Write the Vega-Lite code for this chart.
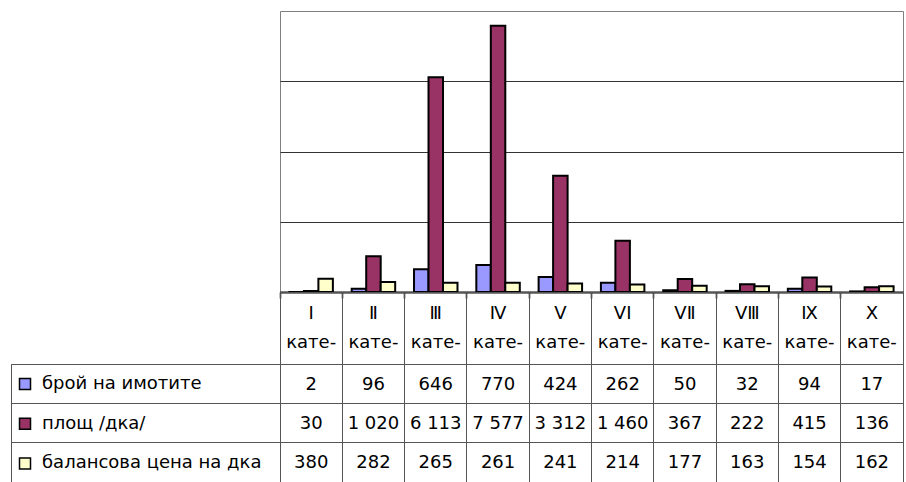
{
  "$schema": "https://vega.github.io/schema/vega-lite/v6.json",
  "padding": {"left": 10, "top": 10, "right": 4, "bottom": 0},
  "background": "white",
  "config": {
    "locale": {"number": {"decimal": ",", "thousands": " ", "grouping": [3], "currency": ["", ""]}},
    "font": "DejaVu Sans",
    "view": {"stroke": "#808080"}
  },
  "datasets": {
    "t": [
      {"category": "I кате-", "series": "брой  на имотите", "value": 2},
      {"category": "I кате-", "series": "площ /дка/", "value": 30},
      {"category": "I кате-", "series": "балансова цена на дка", "value": 380},
      {"category": "Ⅱ кате-", "series": "брой  на имотите", "value": 96},
      {"category": "Ⅱ кате-", "series": "площ /дка/", "value": 1020},
      {"category": "Ⅱ кате-", "series": "балансова цена на дка", "value": 282},
      {"category": "Ⅲ кате-", "series": "брой  на имотите", "value": 646},
      {"category": "Ⅲ кате-", "series": "площ /дка/", "value": 6113},
      {"category": "Ⅲ кате-", "series": "балансова цена на дка", "value": 265},
      {"category": "Ⅳ кате-", "series": "брой  на имотите", "value": 770},
      {"category": "Ⅳ кате-", "series": "площ /дка/", "value": 7577},
      {"category": "Ⅳ кате-", "series": "балансова цена на дка", "value": 261},
      {"category": "V кате-", "series": "брой  на имотите", "value": 424},
      {"category": "V кате-", "series": "площ /дка/", "value": 3312},
      {"category": "V кате-", "series": "балансова цена на дка", "value": 241},
      {"category": "VI кате-", "series": "брой  на имотите", "value": 262},
      {"category": "VI кате-", "series": "площ /дка/", "value": 1460},
      {"category": "VI кате-", "series": "балансова цена на дка", "value": 214},
      {"category": "VⅡ кате-", "series": "брой  на имотите", "value": 50},
      {"category": "VⅡ кате-", "series": "площ /дка/", "value": 367},
      {"category": "VⅡ кате-", "series": "балансова цена на дка", "value": 177},
      {"category": "VⅢ кате-", "series": "брой  на имотите", "value": 32},
      {"category": "VⅢ кате-", "series": "площ /дка/", "value": 222},
      {"category": "VⅢ кате-", "series": "балансова цена на дка", "value": 163},
      {"category": "Ⅸ кате-", "series": "брой  на имотите", "value": 94},
      {"category": "Ⅸ кате-", "series": "площ /дка/", "value": 415},
      {"category": "Ⅸ кате-", "series": "балансова цена на дка", "value": 154},
      {"category": "X кате-", "series": "брой  на имотите", "value": 17},
      {"category": "X кате-", "series": "площ /дка/", "value": 136},
      {"category": "X кате-", "series": "балансова цена на дка", "value": 162}
    ]
  },
  "columns": 2,
  "spacing": 0,
  "bounds": "flush",
  "concat": [
    {
      "data": {"values": []},
      "width": 269, "height": 281,
      "view": {"stroke": null},
      "mark": "point",
      "encoding": {}
    },
    {
      "data": {"name": "t"},
      "width": 623, "height": 281,
      "view": {"stroke": "#808080"},
      "mark": {"type": "bar", "stroke": "black", "strokeWidth": 2},
      "encoding": {
        "x": {"field": "category", "type": "nominal", "sort": null,
          "scale": {"paddingInner": 0, "paddingOuter": 0},
          "axis": {"title": null, "labels": false, "bandPosition": 0, "domainColor": "black", "domainWidth": 2, "tickColor": "black", "tickSize": 6, "tickWidth": 1.5, "grid": false}},
        "xOffset": {"field": "series", "type": "nominal",
          "scale": {"domain": ["брой  на имотите", "площ /дка/", "балансова цена на дка"], "paddingInner": 0, "paddingOuter": 0.65}},
        "y": {"field": "value", "type": "quantitative",
          "scale": {"domain": [0, 8000], "nice": false},
          "axis": {"title": null, "labels": false, "ticks": false, "domain": false, "grid": true, "values": [2000, 4000, 6000], "gridColor": "#333333", "gridOpacity": 1}},
        "color": {"field": "series", "type": "nominal",
          "scale": {"domain": ["брой  на имотите", "площ /дка/", "балансова цена на дка"], "range": ["#9999FF", "#993366", "#FFFFCC"]},
          "legend": {"orient": "none", "legendX": 5, "legendY": 364, "direction": "vertical", "title": null,
            "symbolType": "square", "symbolSize": 121, "symbolStrokeColor": "black", "symbolStrokeWidth": 1.5, "symbolOpacity": 1,
            "labelFont": "DejaVu Sans", "labelFontSize": 18, "labelColor": "black", "labelOffset": 8, "rowPadding": 21.7, "padding": 0, "labelLimit": 400}}
      }
    },
    {
      "data": {"values": []},
      "width": 269, "height": 72,
      "view": {"stroke": null},
      "mark": "point",
      "encoding": {}
    },
    {
      "data": {"name": "t"},
      "width": 623, "height": 72,
      "view": {"stroke": "#555555"},
      "transform": [{"filter": "datum.series == 'площ /дка/'"}],
      "mark": {"type": "text", "fontSize": 18, "lineBreak": " ", "lineHeight": 29, "baseline": "middle", "dy": -14.5, "color": "black"},
      "encoding": {
        "x": {"field": "category", "type": "nominal", "sort": null,
          "scale": {"type": "band", "paddingInner": 0, "paddingOuter": 0},
          "axis": {"title": null, "labels": false, "ticks": false, "domain": false, "grid": true, "bandPosition": 0, "gridColor": "#555555", "gridOpacity": 1}},
        "text": {"field": "category"}
      }
    },
    {
      "data": {"name": "t"},
      "width": 269, "height": 118,
      "view": {"stroke": "#555555"},
      "mark": {"type": "text", "text": ""},
      "encoding": {
        "y": {"field": "series", "type": "nominal",
          "scale": {"type": "band", "domain": ["брой  на имотите", "площ /дка/", "балансова цена на дка"], "paddingInner": 0, "paddingOuter": 0},
          "axis": {"title": null, "labels": false, "ticks": false, "domain": false, "grid": true, "bandPosition": 0, "gridColor": "#555555", "gridOpacity": 1}}
      }
    },
    {
      "data": {"name": "t"},
      "width": 623, "height": 118,
      "view": {"stroke": "#555555"},
      "mark": {"type": "text", "fontSize": 18, "baseline": "middle", "dy": 1, "color": "black"},
      "encoding": {
        "x": {"field": "category", "type": "nominal", "sort": null,
          "scale": {"type": "band", "paddingInner": 0, "paddingOuter": 0},
          "axis": {"title": null, "labels": false, "ticks": false, "domain": false, "grid": true, "bandPosition": 0, "gridColor": "#555555", "gridOpacity": 1}},
        "y": {"field": "series", "type": "nominal",
          "scale": {"type": "band", "domain": ["брой  на имотите", "площ /дка/", "балансова цена на дка"], "paddingInner": 0, "paddingOuter": 0},
          "axis": {"title": null, "labels": false, "ticks": false, "domain": false, "grid": true, "bandPosition": 0, "gridColor": "#555555", "gridOpacity": 1}},
        "text": {"field": "value", "type": "quantitative", "format": ",d"}
      }
    }
  ]
}
